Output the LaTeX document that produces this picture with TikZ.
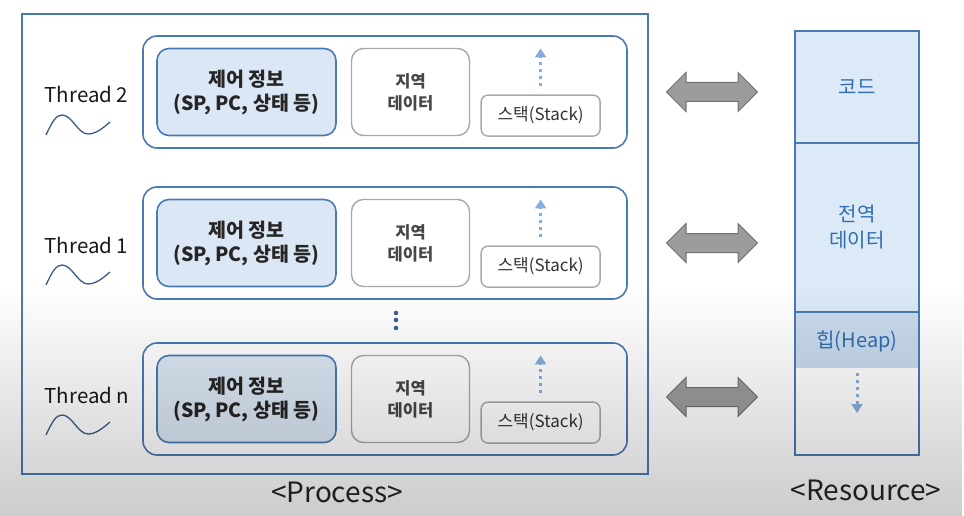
\documentclass[tikz,border=0pt]{standalone}
\usepackage{fontspec}
\setmainfont{Noto Sans CJK KR}
\usetikzlibrary{positioning,shapes.arrows,fadings,arrows.meta}
\definecolor{procblue}{HTML}{4A7AB4}
\definecolor{ctrlfill}{HTML}{DCE7F5}
\definecolor{boxgray}{HTML}{A8A8A8}
\definecolor{resfill}{HTML}{DCE9F7}
\definecolor{heapfill}{HTML}{C9DBEE}
\definecolor{restext}{HTML}{2F6DB0}
\definecolor{growblue}{HTML}{86AEDC}
\definecolor{sharefill}{HTML}{9C9C9C}
\definecolor{sharedraw}{HTML}{707070}
\tikzfading[name=screenfade, top color=transparent!100, bottom color=transparent!0]
\tikzset{
  threadrow/.style={draw=procblue, line width=1.6pt, rounded corners=14pt, fill=white,
    minimum width=484pt, minimum height=112pt},
  ctrlbox/.style={draw=procblue, line width=1.6pt, rounded corners=12pt, fill=ctrlfill,
    minimum width=179pt, minimum height=87pt, align=center, text=black!85,
    font=\fontsize{19.5}{24}\selectfont\bfseries},
  databox/.style={draw=boxgray, line width=1.4pt, rounded corners=12pt, fill=white,
    minimum width=118pt, minimum height=87pt, align=center, text=black!72,
    font=\fontsize{16.5}{22}\selectfont\bfseries},
  stackbox/.style={draw=boxgray, line width=1.4pt, rounded corners=7pt, fill=white,
    minimum width=119pt, minimum height=41pt, text=black!80,
    font=\fontsize{17}{20}\selectfont},
  threadlabel/.style={anchor=west, text=black!90, font=\fontsize{20.5}{24}\selectfont},
  growline/.style={draw=growblue, line width=3pt, dash pattern=on 3pt off 4pt,
    -{Triangle[length=9pt,width=11pt]}},
  share/.style={double arrow, draw=sharedraw, fill=sharefill, line width=1pt,
    minimum width=38pt, minimum height=91pt, double arrow head extend=10pt,
    inner xsep=0pt, inner ysep=9pt},
  segment/.style={draw=procblue, line width=1.6pt, minimum width=124pt, outer sep=0pt,
    align=center, text=restext, font=\fontsize{20}{26}\selectfont},
  caption/.style={text=black!85, font=\fontsize{28}{32}\selectfont},
  threadwave/.pic={
    \draw[procblue!75!black, line width=1.3pt] (0,0) .. controls (6,-13) and (10,-20) .. (16,-20)
      .. controls (26,-20) and (32,-1) .. (42,-1) .. controls (50,-1) and (57,-7) .. (64,-13);
  }
}
\begin{document}
\begin{tikzpicture}[x=1pt, y=-1pt]
  \useasboundingbox (0,0) rectangle (964,516);
  \fill[white] (0,0) rectangle (964,516);

  % process
  \node[draw=procblue, line width=1.6pt, minimum width=626pt, minimum height=460pt] (process) at (335,244) {};

  % thread 2
  \node[threadrow] (row2) at (385,92) {};
  \node[ctrlbox, right=14pt of row2.west] (ctrl2) {제어 정보\\(SP, PC, 상태 등)};
  \node[databox, right=14pt of ctrl2] (data2) {지역\\데이터};
  \node[stackbox, above left=12pt and 27pt of row2.south east] (stack2) {스택(Stack)};
  \coordinate[above=8pt of stack2] (grow2a);
  \coordinate[above=46pt of stack2] (grow2b);
  \draw[growline] (grow2a) -- (grow2b);
  \node[threadlabel] (lbl2) at (41,94) {Thread 2};
  \pic at (46,135) {threadwave};

  % thread 1
  \node[threadrow] (row1) at (385,243) {};
  \node[ctrlbox, right=14pt of row1.west] (ctrl1) {제어 정보\\(SP, PC, 상태 등)};
  \node[databox, right=14pt of ctrl1] (data1) {지역\\데이터};
  \node[stackbox, above left=12pt and 27pt of row1.south east] (stack1) {스택(Stack)};
  \coordinate[above=8pt of stack1] (grow1a);
  \coordinate[above=46pt of stack1] (grow1b);
  \draw[growline] (grow1a) -- (grow1b);
  \node[threadlabel] (lbl1) at (41,245) {Thread 1};
  \pic at (46,285) {threadwave};

  % dots
  \foreach \dy in {313,320,328}
    \fill[procblue!80!black] (396,\dy) circle (2.3pt);

  % thread n
  \node[threadrow] (rown) at (385,399) {};
  \node[ctrlbox, right=14pt of rown.west] (ctrln) {제어 정보\\(SP, PC, 상태 등)};
  \node[databox, right=14pt of ctrln] (datan) {지역\\데이터};
  \node[stackbox, above left=12pt and 27pt of rown.south east] (stackn) {스택(Stack)};
  \coordinate[above=8pt of stackn] (grownb);
  \coordinate[above=46pt of stackn] (grownc);
  \draw[growline] (grownb) -- (grownc);
  \node[threadlabel] (lbln) at (41,395) {Thread n};
  \pic at (46,435) {threadwave};

  % shared
  \node[share] (share2) at (712,92) {};
  \node[share] (share1) at (712,243) {};
  \node[share] (sharen) at (712,397) {};

  % resource
  \node[segment, fill=resfill, minimum height=112pt] (code) at (857,87) {코드};
  \node[segment, fill=resfill, minimum height=169pt, below=0pt of code] (global) {전역\\데이터};
  \node[segment, fill=white, minimum height=143pt, below=0pt of global,
    path picture={\fill[heapfill] (path picture bounding box.north west) rectangle
      ([yshift=-56pt]path picture bounding box.north east);}] (heap) {};
  \node[text=restext, font=\fontsize{20}{24}\selectfont] (heaplbl) at ([yshift=-29pt]heap.north) {힙(Heap)};
  \coordinate (heapa) at ([yshift=-61pt]heap.north);
  \coordinate (heapb) at ([yshift=-101pt]heap.north);
  \draw[growline] (heapa) -- (heapb);

  \node[caption] (proccap) at (337,492) {<Process>};
  \node[caption] (rescap) at (866,490) {<Resource>};

  % screen shade
  \fill[black, opacity=0.2, path fading=screenfade] (0,285) rectangle (964,516);
\end{tikzpicture}
\end{document}
